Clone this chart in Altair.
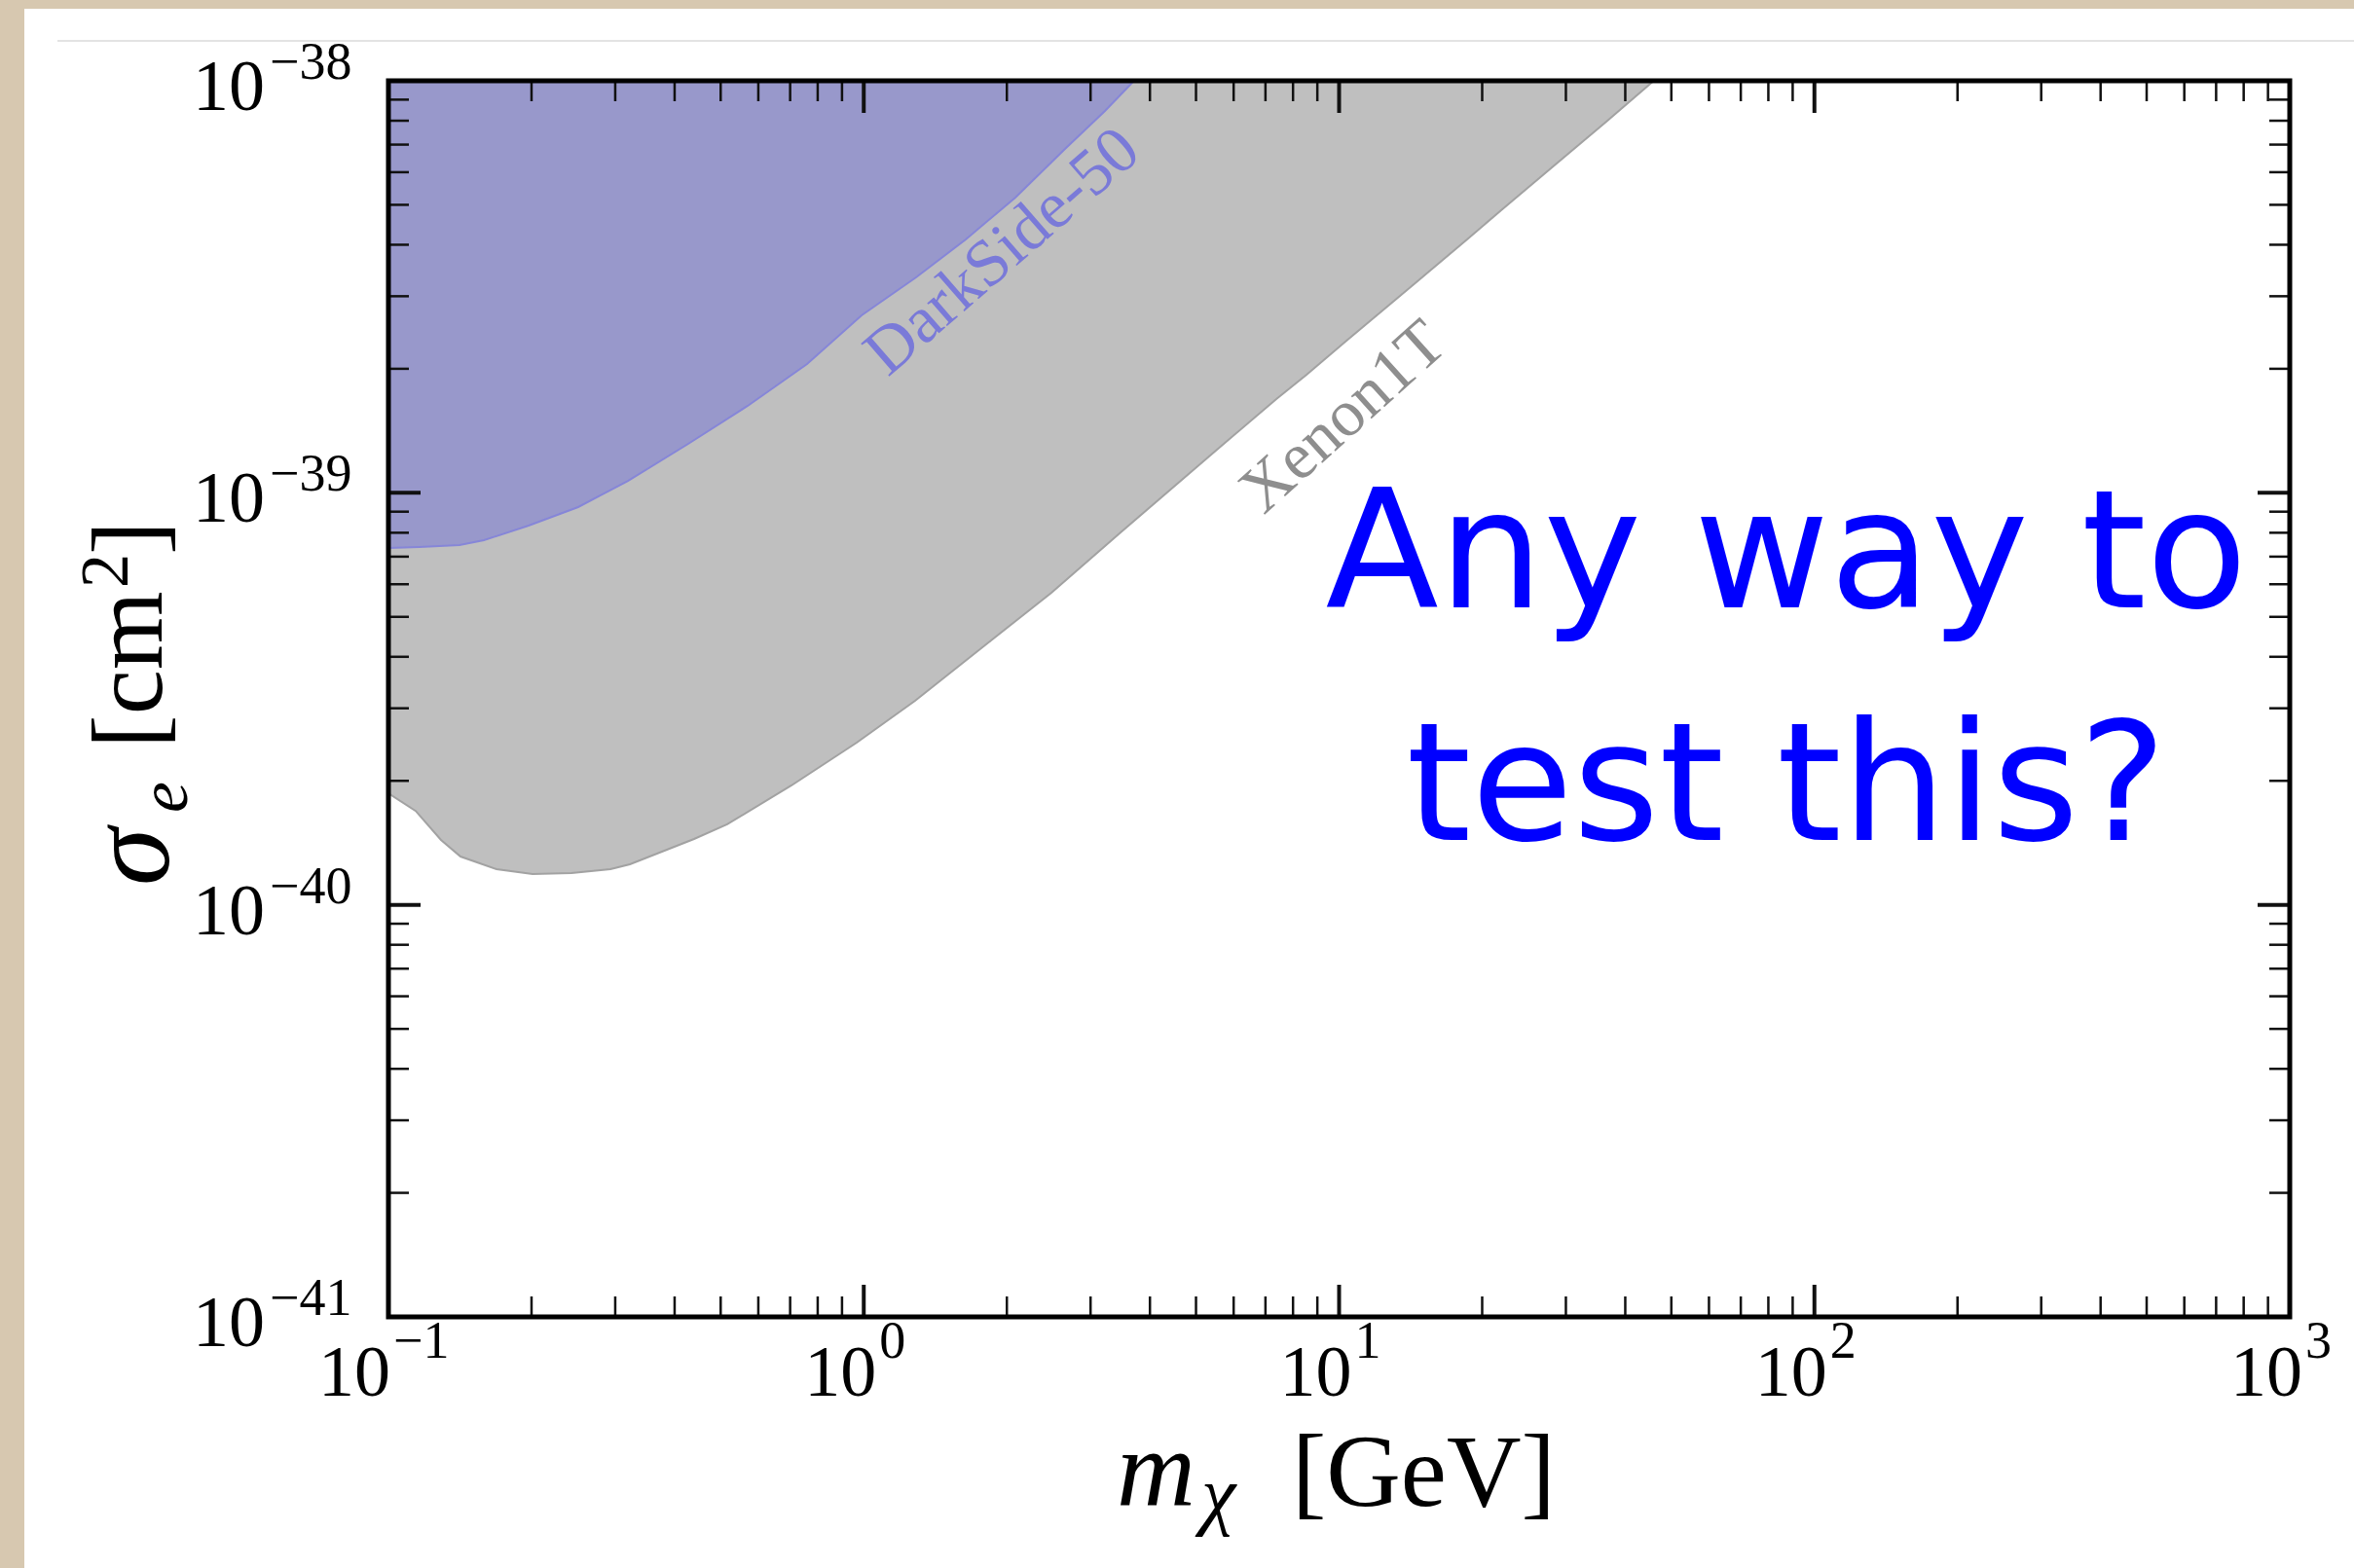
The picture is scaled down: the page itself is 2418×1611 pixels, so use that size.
import altair as alt
import pandas as pd

# ---------------- data ----------------
xenon_mass = [0.1, 0.1141, 0.1290, 0.1418, 0.1688, 0.2010, 0.2427, 0.2931, 0.3221,
              0.4395, 0.5160, 0.7045, 0.9663, 1.282, 1.853, 2.482, 3.452, 5.534,
              7.379, 8.542, 10.31, 14.21, 18.59, 21.93, 28.84, 36.49, 46.20, 50.78]
xenon_sigma = [1.866e-40, 1.690e-40, 1.437e-40, 1.310e-40, 1.221e-40, 1.188e-40,
               1.194e-40, 1.221e-40, 1.254e-40, 1.445e-40, 1.568e-40, 1.949e-40,
               2.476e-40, 3.128e-40, 4.382e-40, 5.720e-40, 7.972e-40, 1.273e-39,
               1.689e-39, 1.935e-39, 2.328e-39, 3.173e-39, 4.121e-39, 4.851e-39,
               6.332e-39, 7.960e-39, 1.006e-38, 1.103e-38]

darkside_mass = [0.1, 0.1163, 0.1411, 0.1588, 0.1972, 0.2507, 0.3190, 0.4273, 0.5699,
                 0.7598, 0.9895, 1.288, 1.639, 2.084, 2.651, 3.217, 3.637, 3.885]
darkside_sigma = [7.346e-40, 7.387e-40, 7.467e-40, 7.674e-40, 8.326e-40, 9.234e-40,
                  1.069e-39, 1.315e-39, 1.626e-39, 2.054e-39, 2.696e-39, 3.333e-39,
                  4.121e-39, 5.206e-39, 6.833e-39, 8.448e-39, 9.786e-39, 1.062e-38]

x_major = [0.1, 1.0, 10.0, 100.0, 1000.0]
x_minor = [k * 10.0 ** e for e in (-1, 0, 1, 2) for k in range(2, 10)]
y_major = [1e-41, 1e-40, 1e-39, 1e-38]
y_minor = [k * 10.0 ** e for e in (-41, -40, -39) for k in range(2, 10)]

x_label_exp = ["\u22121", "0", "1", "2", "3"]
y_label_exp = ["\u221241", "\u221240", "\u221239", "\u221238"]

# ---------------- layout / styles ----------------
W, H = 1953, 1270
PAD = {"left": 399, "top": 83, "right": 66, "bottom": 258}
SERIF = "Liberation Serif"
MAJ, MIN = 33, 21

xs = alt.Scale(type="log", domain=[0.1, 1000], nice=False)
ys = alt.Scale(type="log", domain=[1e-41, 1e-38], nice=False)


def X():
    return alt.X("m:Q", scale=xs, axis=None)


def Y():
    return alt.Y("s:Q", scale=ys, axis=None)


one = pd.DataFrame({"k": [0]})


def txt(s, x, y, size, angle=0, style="normal", color="black", align="left",
        baseline="alphabetic", font=SERIF):
    return alt.Chart(one).mark_text(
        text=s, fontSize=size, font=font, fontStyle=style, angle=angle,
        align=align, baseline=baseline, color=color
    ).encode(x=alt.value(x), y=alt.value(y))


layers = []

# slide card + decoration line
layers.append(alt.Chart(one).mark_rect(color="#ffffff").encode(
    x=alt.value(-PAD["left"] + 25), x2=alt.value(W + PAD["right"]),
    y=alt.value(-PAD["top"] + 9), y2=alt.value(H + PAD["bottom"])))
layers.append(alt.Chart(one).mark_rule(color="#e3e3e3", strokeWidth=2).encode(
    x=alt.value(-PAD["left"] + 59), x2=alt.value(W + PAD["right"]), y=alt.value(-41)))

# exclusion regions
xen_df = pd.DataFrame({"m": xenon_mass, "s": xenon_sigma})
ds_df = pd.DataFrame({"m": darkside_mass, "s": darkside_sigma})

layers.append(alt.Chart(xen_df).mark_area(color="#bfbfbf", clip=True).encode(
    x=X(), y=Y(), y2=alt.datum(1e-38)))
layers.append(alt.Chart(ds_df).mark_area(color="#9898cb", clip=True).encode(
    x=X(), y=Y(), y2=alt.datum(1e-38)))
layers.append(alt.Chart(xen_df).mark_line(color="#a2a2a2", strokeWidth=2, clip=True).encode(
    x=X(), y=Y()))
layers.append(alt.Chart(ds_df).mark_line(color="#8686d8", strokeWidth=2, clip=True).encode(
    x=X(), y=Y()))

# inward ticks on all four sides
for vals, ln, sw in ((x_minor, MIN, 2.5), (x_major, MAJ, 4)):
    d = alt.Chart(pd.DataFrame({"m": vals}))
    layers.append(d.mark_rule(color="#111111", strokeWidth=sw).encode(
        x=X(), y=alt.value(H), y2=alt.value(H - ln)))
    layers.append(d.mark_rule(color="#111111", strokeWidth=sw).encode(
        x=X(), y=alt.value(0), y2=alt.value(ln)))
for vals, ln, sw in ((y_minor, MIN, 2.5), (y_major, MAJ, 4)):
    d = alt.Chart(pd.DataFrame({"s": vals}))
    layers.append(d.mark_rule(color="#111111", strokeWidth=sw).encode(
        y=Y(), x=alt.value(0), x2=alt.value(ln)))
    layers.append(d.mark_rule(color="#111111", strokeWidth=sw).encode(
        y=Y(), x=alt.value(W), x2=alt.value(W - ln)))

# tick labels  (10 with superscript exponent)
xl = pd.DataFrame({"m": x_major, "e": x_label_exp})
xl["long"] = xl["e"].str.len() > 1
for is_long, dx in ((True, 2), (False, 13)):
    d = alt.Chart(xl[xl["long"] == is_long])
    layers.append(d.mark_text(text="10", font=SERIF, fontSize=74, align="right",
                              baseline="alphabetic", dx=dx, color="black").encode(
        x=X(), y=alt.value(H + 81)))
    layers.append(d.mark_text(font=SERIF, fontSize=54, align="left",
                              baseline="alphabetic", dx=dx + 3, color="black").encode(
        x=X(), y=alt.value(H + 42), text="e:N"))

yl = alt.Chart(pd.DataFrame({"s": y_major, "e": y_label_exp}))
layers.append(yl.mark_text(text="10", font=SERIF, fontSize=74, align="right",
                           baseline="alphabetic", dy=30, color="black").encode(
    y=Y(), x=alt.value(-127)))
layers.append(yl.mark_text(font=SERIF, fontSize=54, align="left",
                           baseline="alphabetic", dy=-2, color="black").encode(
    y=Y(), x=alt.value(-122), text="e:N"))

# axis titles (math-style pieces)
layers += [
    txt("\u03c3", -226, 827, 120, angle=270, style="italic"),
    txt("e", -207, 752, 72, angle=270, style="italic"),
    txt("[cm", -233, 686, 104, angle=270),
    txt("2", -268, 521, 70, angle=270),
    txt("]", -233, 487, 104, angle=270),
    txt("m", 748, 1464, 112, style="italic"),
    txt("\u03c7", 835, 1479, 80, style="italic"),
    txt("[GeV]", 928, 1464, 106),
]

# annotations
layers += [
    txt("DarkSide-50", 631, 176, 68, angle=319, color="#7a7ad8", align="center",
        baseline="middle"),
    txt("Xenon1T", 981, 346, 68, angle=318, color="#8e8e8e", align="center",
        baseline="middle"),
    txt("Any way to", 1436, 541, 170, color="#0000ff", align="center",
        font="DejaVu Sans"),
    txt("test this?", 1436, 780, 170, color="#0000ff", align="center",
        font="DejaVu Sans"),
]

# plot frame
layers.append(alt.Chart(one).mark_rect(filled=False, stroke="#000000", strokeWidth=5).encode(
    x=alt.value(0), x2=alt.value(W), y=alt.value(0), y2=alt.value(H)))

chart = alt.layer(*layers).properties(
    width=W, height=H,
    autosize=alt.AutoSizeParams(type="none"),
    padding=PAD,
    background="#d7c8b0",
).configure_view(stroke="transparent")

chart.save("out.html", embed_options={"renderer": "svg", "actions": False})
